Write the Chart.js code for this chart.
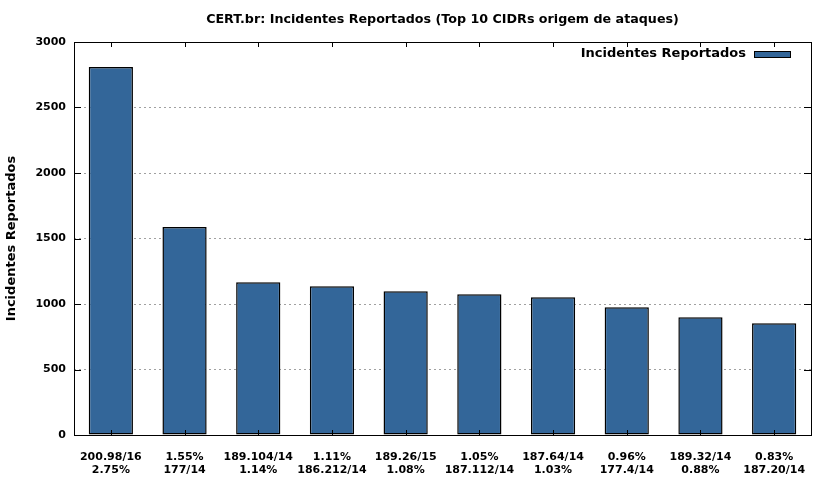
<!DOCTYPE html>
<html>
<head>
<meta charset="utf-8">
<script src="https://cdn.jsdelivr.net/npm/chart.js@4/dist/chart.umd.min.js"></script>
<style>
  html, body { margin: 0; padding: 0; background: #fff; }
  #wrap { width: 831px; height: 480px; }
</style>
</head>
<body>
<div id="wrap"><canvas id="c" width="831" height="480"></canvas></div>
<script>
const cidrLabels = [
  ['200.98/16', '2.75%'],
  ['1.55%', '177/14'],
  ['189.104/14', '1.14%'],
  ['1.11%', '186.212/14'],
  ['189.26/15', '1.08%'],
  ['1.05%', '187.112/14'],
  ['187.64/14', '1.03%'],
  ['0.96%', '177.4/14'],
  ['189.32/14', '0.88%'],
  ['0.83%', '187.20/14']
];
const incidentes = [2810, 1588, 1166, 1135, 1097, 1074, 1051, 975, 898, 853];
const yTicks = [0, 500, 1000, 1500, 2000, 2500, 3000];

const FONT = 'DejaVu Sans';
const BAR_COLOR = '#336699';

// gnuplot style frame: full box, inward ticks on every side, legend at top right
const framePlugin = {
  id: 'frame',
  afterDatasetsDraw(chart) {
    const { ctx, chartArea: a, scales } = chart;
    ctx.save();
    ctx.strokeStyle = '#000';
    ctx.lineWidth = 1;
    ctx.beginPath();
    yTicks.forEach(v => {
      const y = Math.round(scales.y.getPixelForValue(v)) + 0.5;
      ctx.moveTo(a.left, y); ctx.lineTo(a.left + 7, y);
      ctx.moveTo(a.right, y); ctx.lineTo(a.right - 7, y);
    });
    cidrLabels.forEach((_, i) => {
      const x = Math.round(scales.x.getPixelForValue(i)) + 0.5;
      ctx.moveTo(x, a.top); ctx.lineTo(x, a.top + 5);
      ctx.moveTo(x, a.bottom); ctx.lineTo(x, a.bottom - 5);
    });
    ctx.stroke();
    ctx.strokeRect(Math.round(a.left) + 0.5, Math.round(a.top) + 0.5,
      Math.round(a.right - a.left), Math.round(a.bottom - a.top));

    // title, centred over the plot area like gnuplot does
    ctx.font = 'bold 12.7px "' + FONT + '"';
    ctx.fillStyle = '#000';
    ctx.textAlign = 'center';
    ctx.textBaseline = 'middle';
    ctx.fillText(chart.options.plugins.title.text, (a.left + a.right) / 2, 20);

    // legend
    const label = chart.data.datasets[0].label;
    ctx.font = 'bold 13px "' + FONT + '"';
    ctx.textAlign = 'right';
    ctx.fillText(label, a.right - 65, a.top + 12);
    ctx.fillStyle = BAR_COLOR;
    ctx.fillRect(a.right - 57, a.top + 9, 37, 7);
    ctx.strokeRect(a.right - 56.5, a.top + 9.5, 36, 6);
    ctx.restore();
  }
};

new Chart(document.getElementById('c'), {
  type: 'bar',
  data: {
    labels: cidrLabels,
    datasets: [{
      label: 'Incidentes Reportados',
      data: incidentes,
      backgroundColor: BAR_COLOR,
      borderColor: '#000',
      borderWidth: 1.5,
      borderSkipped: false,
      barPercentage: 0.6,
      categoryPercentage: 1
    }]
  },
  options: {
    responsive: false,
    animation: false,
    layout: { padding: { left: 0, right: 20, top: 42, bottom: 0 } },
    plugins: {
      legend: { display: false },
      tooltip: { enabled: false },
      title: {
        display: false,
        text: 'CERT.br: Incidentes Reportados (Top 10 CIDRs origem de ataques)'
      }
    },
    scales: {
      x: {
        grid: { display: false },
        border: { display: false },
        ticks: {
          color: '#000',
          autoSkip: false,
          maxRotation: 0,
          padding: 8,
          font: { family: FONT, size: 11, weight: 'bold', lineHeight: 1.18 }
        },
        afterFit(scale) { scale.height = 45; }
      },
      y: {
        min: 0,
        max: 3000,
        afterBuildTicks(scale) { scale.ticks = yTicks.map(v => ({ value: v })); },
        grid: {
          color: '#a0a0a0',
          drawTicks: false,
          lineWidth: 1
        },
        border: { display: false, dash: [2, 3] },
        ticks: {
          color: '#000',
          padding: 8,
          callback: v => String(v),
          font: { family: FONT, size: 11, weight: 'bold' }
        },
        title: {
          display: true,
          text: 'Incidentes Reportados',
          color: '#000',
          font: { family: FONT, size: 13, weight: 'bold' },
          padding: { top: 4, bottom: 0 }
        },
        afterFit(scale) { scale.width = 74; }
      }
    }
  },
  plugins: [framePlugin]
});
</script>
</body>
</html>
